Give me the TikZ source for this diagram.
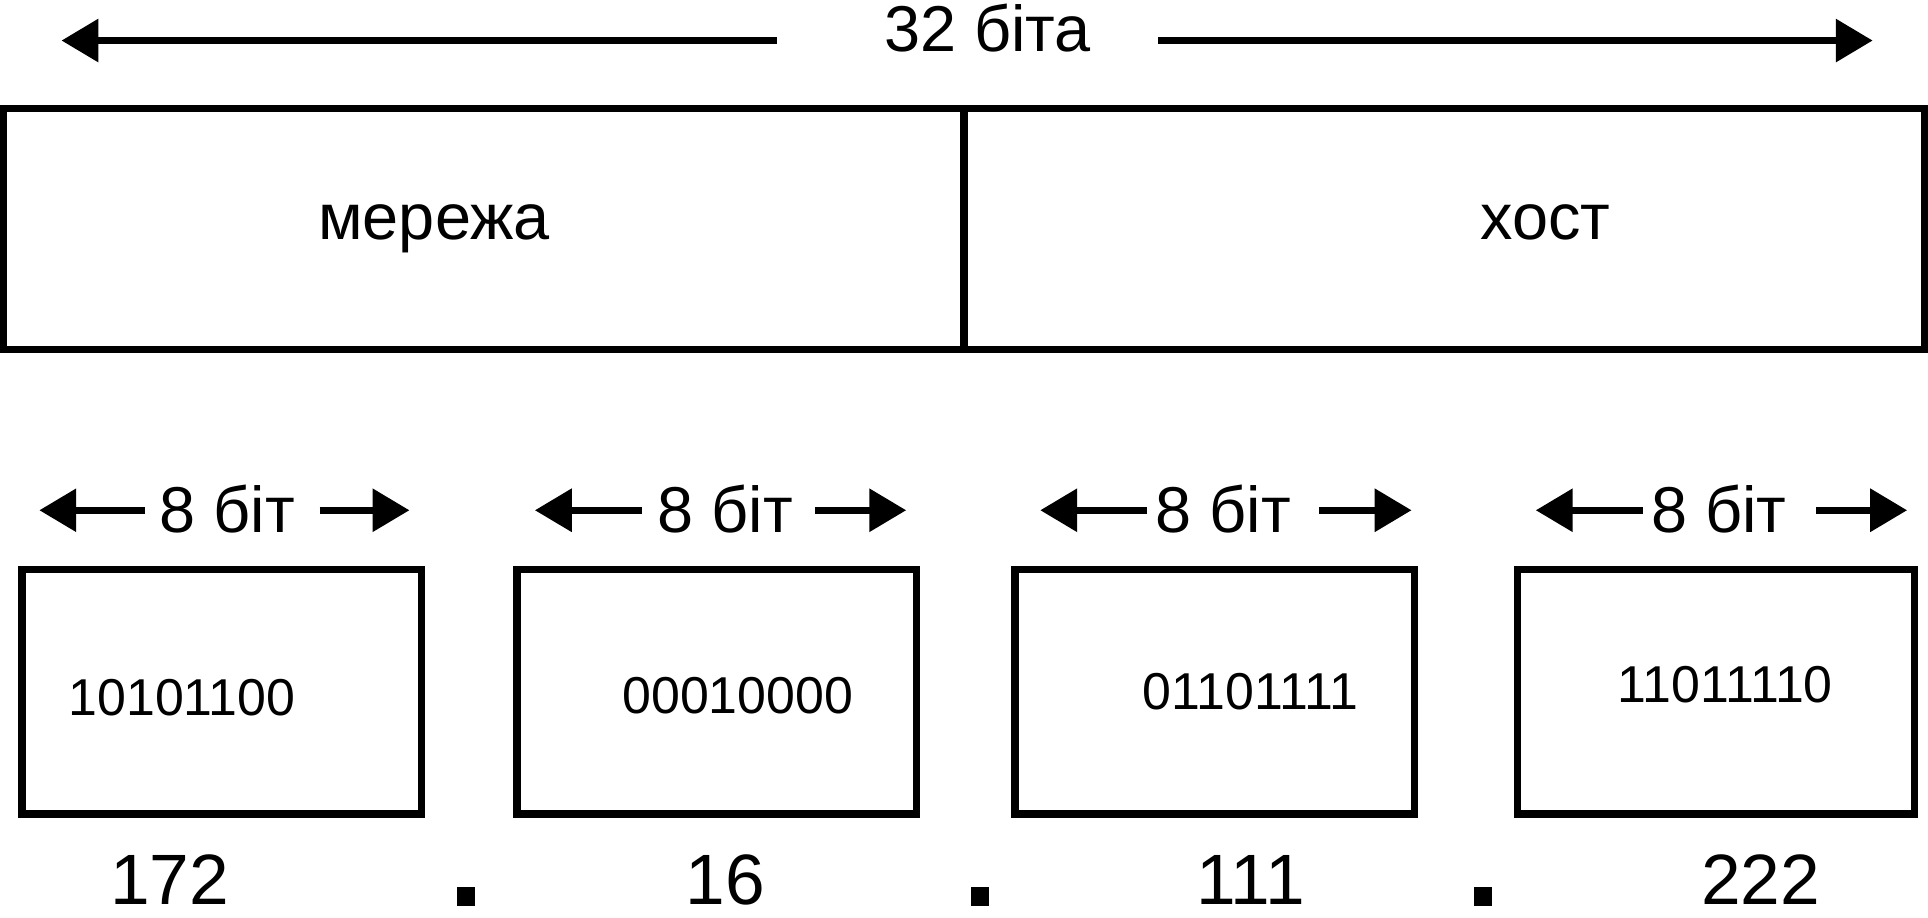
\documentclass[tikz,border=0pt]{standalone}
\usepackage{fontspec}
\setmainfont{Liberation Sans}
\usetikzlibrary{arrows.meta}

\begin{document}
\begin{tikzpicture}[
		box/.style={draw, line width=1.7pt, inner sep=0pt},
		arr/.style={line width=1.6pt, -{Triangle[length=0.3cm, width=0.34cm]}},
		lbl/.style={anchor=base, inner sep=0pt, font=\fontsize{15}{18}\selectfont},
		bits/.style={anchor=base, inner sep=0pt, font=\fontsize{12}{14}\selectfont},
		num/.style={anchor=base, inner sep=0pt, font=\fontsize{16.5}{20}\selectfont},
		sep/.style={fill, inner sep=0pt, minimum width=0.15cm, minimum height=0.16cm}
	]
	\useasboundingbox (0, 0) rectangle (15.68, 7.46);

	% 32 bits
	\node[lbl] (title) at (8.03, 7.04){32 біта};
		\coordinate (ta) at (6.32, 7.13);
		\coordinate (tl) at (0.50, 7.13);
		\coordinate (tb) at (9.42, 7.13);
		\coordinate (tr) at (15.23, 7.13);
		\draw[arr](ta) -- (tl);
		\draw[arr](tb) -- (tr);

	\node[box, minimum width=7.81cm, minimum height=1.96cm] (net) at (3.935, 5.60){};
	\node[box, minimum width=7.81cm, minimum height=1.96cm] (host) at (11.745, 5.60){};
		\node[lbl] (netl) at (3.53, 5.51){мережа};
		\node[lbl] (hostl) at (12.57, 5.51){хост};

	% first octet
	\node[lbl] (w1) at (1.85, 3.13){8 біт};
		\coordinate (a1) at (1.18, 3.31);
		\coordinate (l1) at (0.32, 3.31);
		\coordinate (b1) at (2.60, 3.31);
		\coordinate (r1) at (3.33, 3.31);
		\draw[arr](a1) -- (l1);
		\draw[arr](b1) -- (r1);
	\node[box, minimum width=3.25cm, minimum height=1.99cm] (o1) at (1.805, 1.835){};
		\node[bits] (bin1) at (1.48, 1.64){10101100};
	\node[num] (dec1) at (1.38, 0.10){172};
	\node[sep] (d1) at (3.79, 0.17){};

	% second octet
	\node[lbl] (w2) at (5.90, 3.13){8 біт};
		\coordinate (a2) at (5.22, 3.31);
		\coordinate (l2) at (4.35, 3.31);
		\coordinate (b2) at (6.63, 3.31);
		\coordinate (r2) at (7.37, 3.31);
		\draw[arr](a2) -- (l2);
		\draw[arr](b2) -- (r2);
	\node[box, minimum width=3.25cm, minimum height=1.99cm] (o2) at (5.83, 1.835){};
		\node[bits] (bin2) at (6.00, 1.66){00010000};
	\node[num] (dec2) at (5.90, 0.10){16};
	\node[sep] (d2) at (7.97, 0.17){};

	% third octet
	\node[lbl] (w3) at (9.95, 3.13){8 біт};
		\coordinate (a3) at (9.33, 3.31);
		\coordinate (l3) at (8.46, 3.31);
		\coordinate (b3) at (10.73, 3.31);
		\coordinate (r3) at (11.48, 3.31);
		\draw[arr](a3) -- (l3);
		\draw[arr](b3) -- (r3);
	\node[box, minimum width=3.25cm, minimum height=1.99cm] (o3) at (9.88, 1.835){};
		\node[bits] (bin3) at (10.17, 1.69){01101111};
	\node[num] (dec3) at (10.17, 0.10){111};
	\node[sep] (d3) at (12.06, 0.17){};

	% fourth octet
	\node[lbl] (w4) at (13.98, 3.13){8 біт};
		\coordinate (a4) at (13.36, 3.31);
		\coordinate (l4) at (12.49, 3.31);
		\coordinate (b4) at (14.77, 3.31);
		\coordinate (r4) at (15.51, 3.31);
		\draw[arr](a4) -- (l4);
		\draw[arr](b4) -- (r4);
	\node[box, minimum width=3.23cm, minimum height=1.99cm] (o4) at (13.955, 1.835){};
		\node[bits] (bin4) at (14.03, 1.75){11011110};
	\node[num] (dec4) at (14.32, 0.10){222};
\end{tikzpicture}
\end{document}
